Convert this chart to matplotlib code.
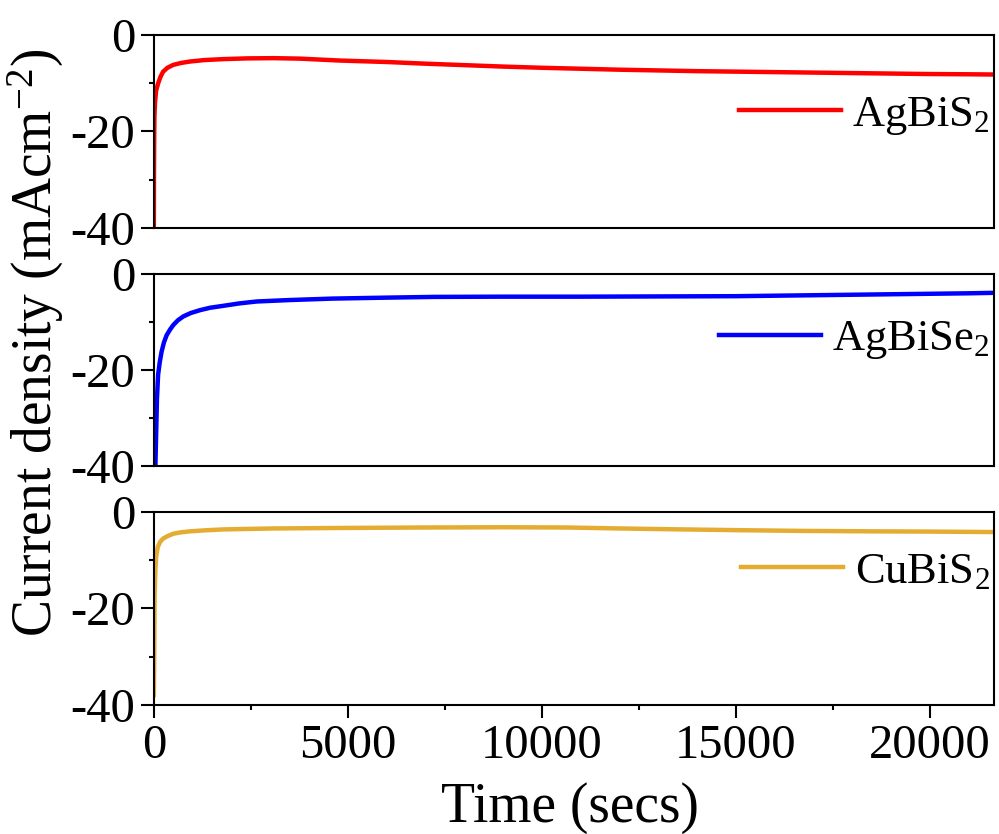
import numpy as np
import matplotlib
matplotlib.use("Agg")
import matplotlib.pyplot as plt
from matplotlib.ticker import MultipleLocator

# Chronoamperometry curves
t_agbis2 = [0, 3, 8, 15, 30, 60, 112, 170, 240, 350, 500, 700, 930, 1300, 1790, 2400,
            3080, 3760, 4800, 6000, 7000, 8000, 9000, 10000, 11000, 12000, 13000, 14000,
            15000, 16000, 17000, 18000, 19000, 20000, 21000, 21650]
j_agbis2 = [-40, -30, -22, -17, -14, -11.5, -10, -8.7, -7.6, -6.8, -6.2, -5.8, -5.5, -5.2, -5.0, -4.85,
            -4.8, -4.9, -5.3, -5.6, -5.95, -6.25, -6.55, -6.8, -7.0, -7.2, -7.35, -7.5,
            -7.6, -7.7, -7.8, -7.9, -8.0, -8.1, -8.15, -8.2]

t_agbise2 = [40, 60, 80, 110, 150, 200, 260, 330, 420, 500, 620, 760, 950, 1190, 1450, 1790,
             2200, 2650, 3500, 4600, 6000, 7200, 9000, 11000, 13000, 15000, 16500, 18000,
             19500, 21000, 21650]
j_agbise2 = [-40, -33, -26, -21, -18.5, -16.2, -14.3, -12.8, -11.6, -10.7, -9.7, -8.9, -8.2, -7.6, -7.1, -6.7,
             -6.2, -5.8, -5.5, -5.2, -5.0, -4.85, -4.8, -4.8, -4.75, -4.7, -4.55, -4.4,
             -4.25, -4.1, -4.0]

t_cubis2 = [0, 10, 20, 40, 60, 100, 160, 240, 350, 500, 700, 930, 1300, 1790, 2400, 3080,
            4800, 7000, 9000, 10600, 12000, 13200, 15000, 16600, 18500, 20000, 21650]
j_cubis2 = [-38, -30, -17.5, -12, -9.3, -7.3, -6.2, -5.5, -5.0, -4.5, -4.2, -4.0, -3.8, -3.6, -3.5, -3.4,
            -3.3, -3.2, -3.15, -3.2, -3.4, -3.55, -3.75, -3.9, -4.0, -4.05, -4.15]

series = [
    (t_agbis2, j_agbis2, "#FF0000", r"AgBiS$\mathregular{_2}$", 0.58),
    (t_agbise2, j_agbise2, "#0000FF", r"AgBiSe$\mathregular{_2}$", 0.655),
    (t_cubis2, j_cubis2, "#E5AC32", r"CuBiS$\mathregular{_2}$", 0.69),
]

plt.rcParams["font.family"] = ["Liberation Serif", "DejaVu Serif"]
plt.rcParams["mathtext.fontset"] = "custom"
plt.rcParams["mathtext.rm"] = "Liberation Serif"
plt.rcParams["axes.unicode_minus"] = False

fig = plt.figure(figsize=(9.99, 8.34), dpi=100)

left, width = 0.154, 0.841
bottoms = [0.727, 0.441, 0.155]
height = 0.231

for i, (t, j, color, label, ly) in enumerate(series):
    ax = fig.add_axes([left, bottoms[i], width, height])
    ax.plot(t, j, color=color, lw=3.2, label=label)
    ax.set_xlim(0, 21650)
    ax.set_ylim(-40, 0)
    ax.yaxis.set_major_locator(MultipleLocator(20))
    ax.yaxis.set_minor_locator(MultipleLocator(10))
    ax.xaxis.set_major_locator(MultipleLocator(5000))
    ax.xaxis.set_minor_locator(MultipleLocator(2500))
    for s in ax.spines.values():
        s.set_linewidth(1.5)
    ax.tick_params(axis="y", which="major", direction="out", length=9.5, width=1.5, labelsize=35, pad=4)
    ax.tick_params(axis="y", which="minor", direction="out", length=3.5, width=1.5)
    if i < 2:
        ax.tick_params(axis="x", which="both", bottom=False, labelbottom=False)
    else:
        ax.tick_params(axis="x", which="major", direction="out", length=9, width=1.5, labelsize=35, pad=5)
        ax.tick_params(axis="x", which="minor", direction="out", length=3.5, width=1.5)
    ax.legend(loc="center right", bbox_to_anchor=(1.0, ly), frameon=False, fontsize=32,
              handlelength=2.3, handletextpad=0.25, borderaxespad=0.1, borderpad=0)

fig.text(36 / 999, 1 - 343 / 834, r"Current density (mAcm$\mathregular{^{-2}}$)", rotation=90,
         ha="center", va="center", fontsize=40)
fig.text(570 / 999, 1 - 808 / 834, "Time (secs)", ha="center", va="center", fontsize=40)

fig.savefig("out.png", dpi=100)
